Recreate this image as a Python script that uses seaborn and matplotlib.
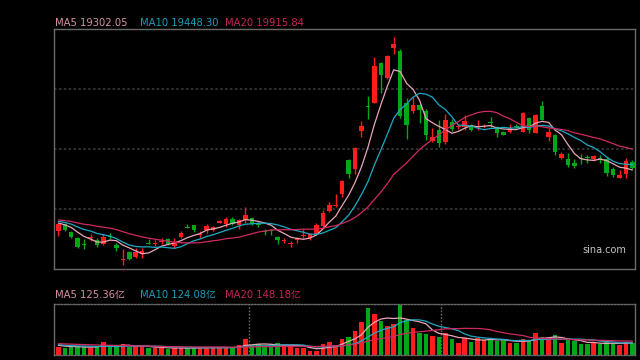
import numpy as np
import pandas as pd
import matplotlib
matplotlib.use("Agg")
import matplotlib.pyplot as plt
import seaborn as sns

# cierres y volumenes anteriores a la ventana visible (solo para las medias moviles)
cierres_previos = [17870, 17810, 17840, 17780, 17750, 17810, 17840, 17780, 17810, 17870,
                   17810, 17780, 17840, 17780, 17720, 17750, 17660, 17690, 17660]
volumen_previo = [135, 125, 146, 125, 114, 135, 156, 125, 114, 104,
                  146, 125, 114, 104, 94, 114, 104, 94, 104]

apertura = [17450, 17660, 17420, 17240, 17060, 17240, 17180, 17060, 17300, 17030,
            16580, 16820, 16670, 16760, 17090, 17060, 17120, 17210, 17000, 17270,
            17570, 17630, 17330, 17480, 17480, 17690, 17660, 17810, 17630, 17780,
            17840, 17660, 17450, 17480, 17270, 17150, 17060, 17180, 17300, 17240,
            17360, 17600, 18050, 18200, 18560, 19580, 19310, 20420, 21170, 21260,
            22460, 22010, 22910, 22820, 21260, 21020, 21200, 21020, 20120, 20450,
            20090, 20690, 20540, 20540, 20570, 20540, 20540, 20690, 20540, 20390,
            20390, 20570, 20390, 20810, 20360, 21170, 20240, 20300, 19640, 19610,
            19490, 19640, 19670, 19610, 19640, 19610, 19310, 19040, 19160, 19520]
maximo = [17690, 17690, 17450, 17270, 17210, 17360, 17240, 17360, 17390, 17090,
          16910, 16850, 16940, 16940, 17210, 17180, 17240, 17240, 17240, 17450,
          17660, 17630, 17450, 17660, 17600, 17780, 17870, 17870, 17810, 18170,
          17870, 17720, 17510, 17510, 17300, 17240, 17150, 17270, 17510, 17390,
          17690, 18080, 18320, 18560, 18980, 19610, 19940, 20720, 21470, 22640,
          22490, 22700, 23240, 22880, 21410, 21440, 21230, 21080, 20510, 20750,
          20930, 20780, 20630, 20900, 20630, 20750, 20630, 20840, 20570, 20420,
          20630, 20630, 20990, 20840, 20930, 21320, 20510, 20330, 19820, 19790,
          19610, 19760, 19730, 19730, 19730, 19670, 19370, 19280, 19640, 19580]
minimo = [17300, 17450, 17240, 16940, 16910, 17150, 16970, 17030, 17210, 16850,
          16430, 16580, 16640, 16640, 17060, 17000, 17060, 17030, 16940, 17240,
          17540, 17420, 17240, 17390, 17450, 17690, 17570, 17630, 17510, 17690,
          17630, 17570, 17330, 17330, 17060, 17090, 16970, 17090, 17240, 17180,
          17330, 17570, 18020, 18170, 18470, 19040, 19160, 20240, 20780, 21260,
          21560, 21980, 22730, 20810, 20180, 20960, 20660, 20150, 20090, 19940,
          20030, 20420, 20480, 20450, 20420, 20450, 20510, 20540, 20240, 20300,
          20360, 20510, 20390, 20360, 20360, 20750, 20120, 19730, 19610, 19370,
          19340, 19460, 19490, 19550, 19490, 19100, 19070, 19040, 19040, 19310]
cierre = [17660, 17480, 17270, 16970, 17030, 17270, 17030, 17270, 17270, 16940,
          16610, 16610, 16820, 16850, 17060, 17090, 17150, 17060, 17090, 17390,
          17540, 17480, 17360, 17600, 17570, 17750, 17810, 17660, 17780, 17930,
          17660, 17630, 17420, 17450, 17180, 17180, 17090, 17210, 17330, 17360,
          17630, 17990, 18230, 18230, 18950, 19160, 19910, 20570, 21140, 22370,
          22100, 22670, 23030, 20870, 20600, 21200, 21050, 20300, 20240, 20060,
          20750, 20480, 20570, 20720, 20450, 20570, 20570, 20660, 20360, 20300,
          20510, 20540, 20960, 20450, 20900, 20750, 20390, 19820, 19760, 19430,
          19400, 19610, 19640, 19700, 19610, 19190, 19130, 19130, 19550, 19340]
# volumen en 亿
volumen = [86, 73, 86, 86, 86, 76, 86, 135, 86, 86,
           114, 86, 86, 86, 76, 76, 76, 62, 76, 76,
           70, 76, 76, 86, 76, 76, 76, 76, 104, 166,
           104, 114, 86, 86, 128, 104, 97, 76, 70, 42,
           42, 114, 138, 104, 166, 185, 250, 346, 492, 426,
           354, 302, 322, 520, 364, 284, 232, 218, 201, 190,
           226, 166, 128, 174, 138, 180, 156, 163, 146, 156,
           128, 122, 163, 156, 232, 190, 156, 208, 125, 156,
           146, 114, 114, 125, 114, 135, 125, 104, 135, 125]

etiquetas_precio = ["MA5 19302.05", "MA10 19448.30", "MA20 19915.84"]
etiquetas_volumen = ["MA5 125.36亿", "MA10 124.08亿", "MA20 148.18亿"]
periodos = [5, 10, 20]
colores_ma = ["#eaa6b8", "#1fa9c4", "#d02a62"]
color_etiquetas = ["#d890a4", "#1c9cb8", "#c8225a"]
ROJO = "#ff1c1c"
VERDE = "#00a818"

sns.set_style("dark")
plt.rcParams['font.family'] = ['DejaVu Sans', 'Noto Sans CJK SC']

n = len(cierre)
idx = np.arange(n)
o = np.array(apertura, dtype=float)
c = np.array(cierre, dtype=float)
colores = [ROJO if c[i] > o[i] else VERDE for i in range(n)]


def medias(previos, valores):
    serie = pd.Series(list(previos) + list(valores), dtype=float)
    return [serie.rolling(p).mean().iloc[len(previos):].values for p in periodos]


fig = plt.figure(figsize=(6.4, 3.6), dpi=100, facecolor="black")
ax = fig.add_axes([54 / 640, 1 - 269 / 360, 581 / 640, 240 / 360])
axv = fig.add_axes([54 / 640, 1 - 355 / 360, 581 / 640, 51 / 360])

for a in (ax, axv):
    a.set_facecolor("black")
    a.set_xticks([])
    a.set_yticks([])
    a.set_xlabel("")
    a.set_ylabel("")
    a.set_xlim(-0.67, 89.4)
    a.grid(False)

# precios
y0, y1 = 16310, 23480
ax.set_ylim(y0, y1)
for k in (1, 2, 3):
    ax.axhline(y0 + (y1 - y0) * k / 4, color="#3e3e3e", lw=1.1, ls=(0, (1.6, 1.6)), zorder=1)
ax.vlines(idx, minimo, maximo, colors=colores, lw=1, zorder=2)
ax.bar(idx, np.abs(c - o), bottom=np.minimum(o, c), width=0.7, color=colores, linewidth=0, zorder=3)
for ma, col in zip(medias(cierres_previos, cierre), colores_ma):
    sns.lineplot(x=idx, y=ma, ax=ax, color=col, linewidth=0.9, zorder=4)
for s in ax.spines.values():
    s.set_color("#6a6a6a")
    s.set_linewidth(1)
ax.text(0.985, 0.08, "sina.com", transform=ax.transAxes, ha="right", va="center",
        color="#c4c4c4", fontsize=7)

# volumen
axv.set_ylim(0, 530)
axv.bar(idx, volumen, width=0.7, color=colores, linewidth=0, zorder=2)
for ma, col in zip(medias(volumen_previo, volumen), colores_ma):
    sns.lineplot(x=idx, y=ma, ax=axv, color=col, linewidth=0.9, zorder=4)
for xv in (29.5, 59.4):
    axv.axvline(xv, color="#6a6a6a", lw=1, ls=(0, (1.2, 1.2)), zorder=1)
for nombre, s in axv.spines.items():
    s.set_color("#6a6a6a")
    s.set_linewidth(1)
    if nombre in ("top", "bottom"):
        s.set_linestyle((0, (1.2, 1.2)))

xs = [55, 140, 225]
for x, txt, col in zip(xs, etiquetas_precio, color_etiquetas):
    fig.text(x / 640, 1 - 23 / 360, txt, color=col, fontsize=7.2, va="center")
for x, txt, col in zip(xs, etiquetas_volumen, color_etiquetas):
    fig.text(x / 640, 1 - 295 / 360, txt, color=col, fontsize=7.2, va="center")

fig.savefig("out.png", dpi=100, facecolor="black")
